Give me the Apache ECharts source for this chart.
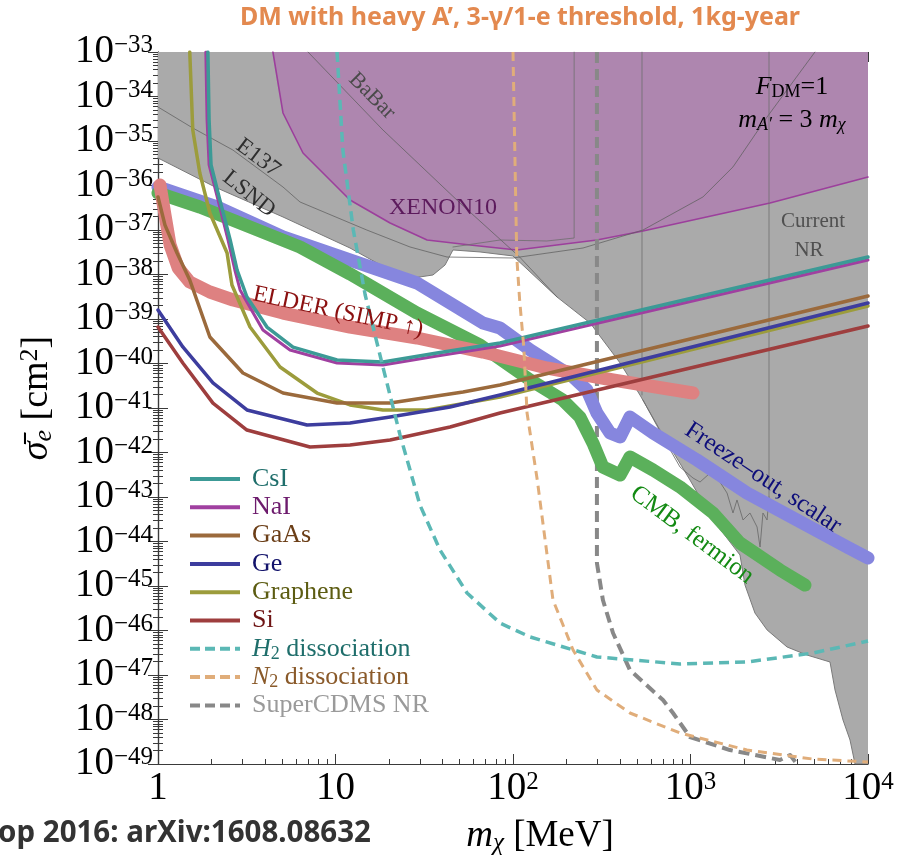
<!DOCTYPE html>
<html>
<head>
<meta charset="utf-8">
<script src="https://cdn.jsdelivr.net/npm/echarts@6/dist/echarts.min.js"></script>
<style>
  html, body { margin: 0; padding: 0; background: #ffffff; }
  #chart { width: 912px; height: 859px; }
</style>
</head>
<body>
<div id="chart"></div>
<script>
// Axis decades: dark-matter mass m_chi in MeV, cross section sigma_e in cm^2
const massExponents = [0, 1, 2, 3, 4];
const sigmaExponents = [-49, -48, -47, -46, -45, -44, -43, -42, -41, -40, -39, -38, -37, -36, -35, -34, -33];

// Projected reach, [m_chi (MeV), sigma_e (cm^2)]
const csi = [[1.91,1e-33],[1.94,2.96e-35],[1.99,2.89e-36],[2.23,4.72e-37],[2.55,5.96e-38],[2.79,1.26e-38],[3.17,3.12e-39],[4.11,6.6e-40],[5.76,2.34e-40],[10.2,1.2e-40],[18.5,1.08e-40],[37.3,1.72e-40],[84.5,2.89e-40],[1e4,2.47e-38]];
const nai = [[1.86,1e-33],[1.89,2.96e-35],[1.94,2.89e-36],[2.18,4.72e-37],[2.48,5.96e-38],[2.71,1.26e-38],[2.90,4.49e-39],[3.90,5.66e-40],[5.54,2.01e-40],[10.2,1.03e-40],[18.5,9.25e-41],[37.3,1.47e-40],[84.5,2.47e-40],[1e4,2.12e-38]];
const gaas = [[1,5.52e-37],[1.095,1.29e-37],[1.28,3.04e-38],[1.51,7.52e-39],[1.96,3.94e-40],[3.01,6.12e-41],[5.06,2.17e-41],[10.2,1.29e-41],[20.3,1.29e-41],[52.3,2.29e-41],[84.5,3.29e-41],[1e4,3.29e-39]];
const ge = [[1,1.59e-39],[1.38,2.35e-40],[2.04,3.65e-41],[3.17,9.02e-42],[6.91,4.15e-42],[12.07,4.6e-42],[20.3,6.28e-42],[44.2,1.05e-41],[84.5,1.96e-41],[1e4,2.29e-39]];
const graphene = [[1.51,1e-33],[1.57,1.77e-35],[1.72,1.91e-36],[1.96,2.41e-37],[2.45,3.04e-38],[2.61,5.8e-39],[3.30,6.6e-40],[4.87,8.34e-41],[7.87,2.17e-41],[12.07,1.17e-41],[18.5,9.02e-42],[32.8,9.02e-42],[84.5,1.77e-41],[1e4,1.96e-39]];
const si = [[1,6.6e-40],[1.38,1.03e-40],[2.04,1.29e-41],[3.17,3.2e-42],[7.18,1.33e-42],[12.07,1.47e-42],[20.3,1.91e-42],[44.2,3.74e-42],[84.5,7.73e-42],[1e4,6.96e-40]];
const h2Dissociation = [[10.2,1e-33],[11.0,6.28e-36],[12.6,1.0e-37],[14.7,3.46e-39],[18.5,8.34e-41],[23.1,2.47e-42],[26.3,4.04e-43],[29.9,6.61e-44],[38.8,6.44e-45],[55.1,6.96e-46],[84.5,1.47e-46],[125,7.15e-47],[297,2.54e-47],[873,1.77e-47],[2080,1.96e-47],[4900,3.12e-47],[1e4,5.8e-47]];
const n2Dissociation = [[100,1e-33],[105,2.47e-38],[109,2.67e-39],[115,2.35e-40],[120,7.73e-42],[137,2.41e-43],[168,4.84e-46],[218,3.65e-47],[297,4.6e-48],[456,1.4e-48],[873,4.97e-49],[2080,2.06e-49],[4900,1.29e-49],[1e4,1.11e-49]];
const superCdmsNR = [[297,1e-33],[297,3.29e-45],[321,4.84e-46],[366,8.79e-47],[456,1.29e-47],[700,2.74e-48],[797,1.4e-48],[993,4.04e-49],[1667,2.06e-49],[3190,1.23e-49],[3640,1.59e-49],[3980,1e-49]];

// Thermal targets
const freezeOutScalar = [[1,9.25e-37],[2.15,3.29e-37],[5.06,6.96e-38],[28.8,6.44e-39],[67.7,8.13e-40],[84.5,6.28e-40],[125,2.01e-40],[218,4.97e-41],[261,2.54e-41],[297,7.73e-42],[352,2.74e-42],[401,2.23e-42],[456,6.28e-42],[615,2.74e-42],[1088,6.78e-43],[2080,1.23e-43],[3980,3.04e-44],[7620,7.52e-45],[1e4,4.26e-45]];
const cmbFermion = [[1,6.78e-37],[1.72,3.29e-37],[3.30,1.17e-37],[6.31,4.15e-38],[12.07,1.03e-38],[28.8,1.36e-39],[65.2,2.6e-40],[125,4.26e-41],[191,1.51e-41],[238,6.28e-42],[282,1.63e-42],[321,4.72e-43],[401,3.12e-43],[456,7.92e-43],[615,4.04e-43],[873,1.68e-43],[1340,4.37e-44],[1900,9.25e-45],[3190,2.29e-45],[4415,1.05e-45]];
const elderSimp = [[1.026,1.03e-36],[1.095,2.17e-37],[1.17,4.6e-38],[1.30,1.4e-38],[1.51,6.78e-39],[1.96,4.04e-39],[2.65,2.67e-39],[5.06,1.36e-39],[12.07,6.6e-40],[28.8,3.74e-40],[67.7,1.81e-40],[155,7.92e-41],[366,4.26e-41],[1033,2.17e-41]];

// Existing constraints
const currentNRBoundary = [[1,4.15e-36],[2.15,8.79e-37],[5.06,1.96e-37],[12.07,3.94e-38],[21.1,1.14e-38],[27.3,8.34e-39],[35.4,9.75e-39],[41.4,1.63e-38],[45.9,3.56e-38],[65.2,3.21e-38],[100,2.61e-38],[177,3.12e-39],[272,8.13e-40],[401,1.03e-40],[519,1.96e-41],[673,3.21e-42],[993,2.41e-43],[1340,3.04e-44],[1900,4.98e-45],[2028,1.05e-45],[2307,2.47e-46],[2700,1.03e-46],[3500,4.26e-47],[4530,2.81e-47],[6110,1.96e-47],[6520,4.6e-48],[7230,9.75e-49],[7920,3.46e-49],[8450,1e-49],[1e4,1e-49]];
const xenon10 = [[4.44,1e-33],[5.06,4.26e-35],[6.56,5.37e-36],[12.07,4.72e-37],[20.3,1.44e-37],[32.8,5.96e-38],[57.3,4.6e-38],[105,3.56e-38],[297,5.96e-38],[540,9.5e-38],[2805,4.04e-37],[1e4,1.55e-36]];
const e137 = [[1,5.81e-35],[1.57,1.96e-35],[2.64,6.28e-36],[5.06,9.25e-37],[6.31,4.26e-37],[15.0,1.0e-37],[26.3,4.15e-38],[42.5,2.47e-38],[100,2.35e-38],[248,3.94e-38],[540,1.0e-37],[1175,5.52e-37],[1735,2.61e-36],[2700,3.46e-35],[5025,1e-33]];
const babar = [[7.0,1e-33],[18.5,1.77e-35],[50.3,4.04e-37],[109,2.47e-38],[177,3.12e-39]];
const nrOutline = [[45.9,4.15e-38],[84.5,5.96e-38],[155,5.66e-38],[221,6.6e-38],[221,1e-33]];
const nrEdgeLow = [[533,1e-33],[533,1.96e-41]];
const nrEdgeHigh = [[2769,1e-33],[2769,1e-43]];
const nrWiggle = [[540,1.51e-41],[731,1.63e-42],[873,4.72e-43],[1033,2.67e-43],[1132,2.17e-43],[1289,3.46e-43],[1466,2.17e-43],[1606,1.23e-43],[1735,4.37e-44],[1828,8.57e-44],[1977,3.04e-44],[2163,4.37e-44],[2371,2.12e-44],[2465,7.52e-45],[2560,4.37e-44],[2700,3.04e-44],[2769,1e-43]];

const SERIF = "'Liberation Serif', 'DejaVu Serif', serif";
const SANS = "'Noto Sans', 'Open Sans', sans-serif";
const toLog = pts => pts.map(([m, s]) => [Math.log10(m), Math.log10(s)]);

function curve(name, pts, color, width, extra) {
  return Object.assign({
    name: name,
    type: 'line',
    data: toLog(pts),
    symbol: 'none',
    silent: true,
    itemStyle: { color: color },
    lineStyle: { color: color, width: width, cap: 'round', join: 'round' }
  }, extra || {});
}
function dashed(name, pts, color, width, dash) {
  return {
    name: name, type: 'line', data: toLog(pts), symbol: 'none', silent: true,
    itemStyle: { color: color },
    lineStyle: { color: color, width: width, type: dash, cap: 'butt', join: 'round' }
  };
}

// Minor ticks at 2..9 inside each decade
function minorTicks(lo, hi) {
  const out = [];
  for (let n = lo; n < hi; n++) for (let k = 2; k <= 9; k++) out.push(n + Math.log10(k));
  return out;
}

const tickRich = {
  b: { fontFamily: SERIF, fontSize: 39, lineHeight: 38, color: '#000' },
  s: { fontFamily: SERIF, fontSize: 25, lineHeight: 18, verticalAlign: 'top', color: '#000' }
};
const frameLine = { show: true, lineStyle: { color: '#3a3a3a', width: 1.2 } };

function xAxisDef(position, major) {
  return {
    type: 'value', min: 0, max: 4, position: position,
    interval: major ? 1 : undefined,
    axisLine: major ? frameLine : { show: false },
    axisTick: major
      ? { show: true, inside: true, length: 10, lineStyle: { color: '#3a3a3a' } }
      : { show: true, inside: true, length: 5, customValues: minorTicks(0, 4), lineStyle: { color: '#3a3a3a' } },
    axisLabel: (major && position === 'bottom') ? {
      show: true, margin: 6, showMinLabel: true, showMaxLabel: true, rich: tickRich,
      formatter: v => {
        const e = massExponents.find(x => Math.abs(x - v) < 1e-6);
        if (e === undefined) return '';
        if (e === 0) return '{b|1}';
        if (e === 1) return '{b|10}';
        return '{b|10}{s|' + e + '}';
      }
    } : { show: false },
    splitLine: { show: false }
  };
}
function yAxisDef(position, major) {
  return {
    type: 'value', min: -49, max: -33, position: position,
    interval: major ? 1 : undefined,
    axisLine: major ? frameLine : { show: false },
    axisTick: major
      ? { show: true, inside: true, length: 10, lineStyle: { color: '#3a3a3a' } }
      : { show: true, inside: true, length: 5, customValues: minorTicks(-49, -33), lineStyle: { color: '#3a3a3a' } },
    axisLabel: (major && position === 'left') ? {
      show: true, margin: 5, showMinLabel: true, showMaxLabel: true, rich: tickRich,
      formatter: v => {
        const e = sigmaExponents.find(x => Math.abs(x - v) < 1e-6);
        if (e === undefined) return '';
        return '{b|10}{s|\u2212' + Math.abs(e) + '}';
      }
    } : { show: false },
    splitLine: { show: false }
  };
}

const series = [
  // excluded regions
  curve('Current NR', currentNRBoundary, '#7a7a7a', 1, { areaStyle: { color: '#aaaaaa', opacity: 1, origin: 'end' } }),
  curve('XENON10', xenon10, '#9c3f9c', 1.6, { areaStyle: { color: '#ae86af', opacity: 1, origin: 'end' } }),
  curve('E137', e137, 'rgba(95,95,95,0.75)', 1),
  curve('BaBar', babar, 'rgba(95,95,95,0.75)', 1),
  curve('NR outline', nrOutline, 'rgba(110,110,110,0.8)', 1),
  curve('NR edge low', nrEdgeLow, 'rgba(110,110,110,0.8)', 1),
  curve('NR edge high', nrEdgeHigh, 'rgba(110,110,110,0.8)', 1),
  curve('NR wiggle', nrWiggle, 'rgba(110,110,110,0.9)', 1),
  dashed('SuperCDMS NR', superCdmsNR, '#888888', 4, [11, 6]),
  // thermal targets
  curve('Freeze-out, scalar', freezeOutScalar, '#8686de', 13),
  curve('CMB, fermion', cmbFermion, '#5bb05b', 13),
  curve('ELDER', elderSimp, '#de8181', 13),
  // targets
  curve('Si', si, '#9e3e3e', 3.5),
  curve('Graphene', graphene, '#9c9c3c', 3.5),
  curve('Ge', ge, '#3d3d9e', 3.5),
  curve('GaAs', gaas, '#9b6a3c', 3.5),
  curve('NaI', nai, '#a040a0', 3),
  curve('CsI', csi, '#3c9a96', 3.5),
  dashed('H2 dissociation', h2Dissociation, '#5bb8b5', 3.5, [10, 6]),
  dashed('N2 dissociation', n2Dissociation, '#e0ad7a', 3, [9, 6])
];

function label(x, y, text, size, color, rot, extra) {
  return {
    type: 'text', x: x, y: y, rotation: rot || 0, z: 100, silent: true,
    style: Object.assign({
      text: text, fontFamily: SERIF, fontSize: size, fill: color,
      align: 'center', verticalAlign: 'middle'
    }, extra || {})
  };
}

const mathRich = (size, color) => ({
  i: { fontFamily: SERIF, fontSize: size, fontStyle: 'italic', lineHeight: size + 2, fill: color, color: color },
  n: { fontFamily: SERIF, fontSize: size, lineHeight: size + 2, fill: color, color: color },
  sub: { fontFamily: SERIF, fontSize: Math.round(size * 0.68), lineHeight: Math.round(size * 0.45), verticalAlign: 'bottom', fill: color, color: color },
  subi: { fontFamily: SERIF, fontStyle: 'italic', fontSize: Math.round(size * 0.68), lineHeight: Math.round(size * 0.45), verticalAlign: 'bottom', fill: color, color: color },
  sup: { fontFamily: SERIF, fontSize: Math.round(size * 0.68), lineHeight: Math.round(size * 0.45), verticalAlign: 'top', fill: color, color: color }
});

// Key: one sample stroke and one caption per row
const legendEntries = [
  { text: '{n|CsI}', line: '#3c9a96', textColor: '#1f6e6b' },
  { text: '{n|NaI}', line: '#a040a0', textColor: '#6d1b6d' },
  { text: '{n|GaAs}', line: '#9b6a3c', textColor: '#6b3e17' },
  { text: '{n|Ge}', line: '#3d3d9e', textColor: '#13136b' },
  { text: '{n|Graphene}', line: '#9c9c3c', textColor: '#5c5c12' },
  { text: '{n|Si}', line: '#9e3e3e', textColor: '#6e1414' },
  { text: '{i|H}{sub|2}{n| dissociation}', line: '#5bb8b5', textColor: '#1f6e6b', dash: [10, 5] },
  { text: '{i|N}{sub|2}{n| dissociation}', line: '#e0ad7a', textColor: '#8a5a2a', dash: [10, 5] },
  { text: '{n|SuperCDMS NR}', line: '#888888', textColor: '#9a9a9a', dash: [10, 5] }
];
const legendGraphics = [];
legendEntries.forEach((e, k) => {
  const y = 479 + k * 28.3;
  legendGraphics.push({
    type: 'line', z: 100, silent: true,
    shape: { x1: 190, y1: y, x2: 240, y2: y },
    style: { stroke: e.line, lineWidth: 4, lineDash: e.dash || null }
  });
  legendGraphics.push(label(252, y, e.text, 26, e.textColor, 0,
    { align: 'left', rich: mathRich(26, e.textColor) }));
});

const graphics = [
  label(520, 18, 'DM with heavy A\u2019, 3-\u03b3/1-e threshold, 1kg-year', 25, '#e3894f', 0,
        { fontFamily: SANS, fontWeight: 'bold' }),
  label(-2, 834, 'op 2016: arXiv:1608.08632', 29.5, '#333333', 0,
        { fontFamily: SANS, fontWeight: 'bold', align: 'left' }),
  label(540, 836, '{i|m}{subi|\u03c7}{n| [MeV]}', 37, '#000', 0, { rich: mathRich(37, '#000') }),
  label(37, 398, '{i|\u03c3\u0304}{subi|e}{n| [cm}{sup|2}{n|]}', 38, '#000', Math.PI / 2, { rich: mathRich(38, '#000') }),
  label(372, 96, 'BaBar', 22, '#4a4a4a', -Math.PI / 4),
  label(258, 158, 'E137', 23, '#2e2e2e', -0.64),
  label(249, 194, 'LSND', 23, '#2e2e2e', -0.68),
  label(443, 208, 'XENON10', 24, '#5c1a5c'),
  label(813, 221, 'Current', 21, '#505050'),
  label(809, 250, 'NR', 21, '#505050'),
  label(792, 87, '{i|F}{sub|DM}{n|=1}', 26, '#000', 0, { rich: mathRich(26, '#000') }),
  label(792, 120, '{i|m}{subi|A\u2032}{n| = 3 }{i|m}{subi|\u03c7}', 26, '#000', 0, { rich: mathRich(26, '#000') }),
  label(338, 312, 'ELDER (SIMP \u2191)', 24, '#8b1010', -0.21),
  label(763, 478, 'Freeze\u2013out, scalar', 25, '#0d0d7a', -0.583),
  label(692, 535, 'CMB, fermion', 25, '#138a13', -0.64)
].concat(legendGraphics);

const chart = echarts.init(document.getElementById('chart'), null, { renderer: 'canvas' });
chart.setOption({
  animation: false,
  backgroundColor: '#ffffff',
  grid: { left: 158, right: 44, top: 52, bottom: 95, containLabel: false, outerBoundsMode: 'none' },
  xAxis: [xAxisDef('bottom', true), xAxisDef('top', true), xAxisDef('bottom', false), xAxisDef('top', false)],
  yAxis: [yAxisDef('left', true), yAxisDef('right', true), yAxisDef('left', false), yAxisDef('right', false)],
  series: series,
  graphic: graphics
});
</script>
</body>
</html>
